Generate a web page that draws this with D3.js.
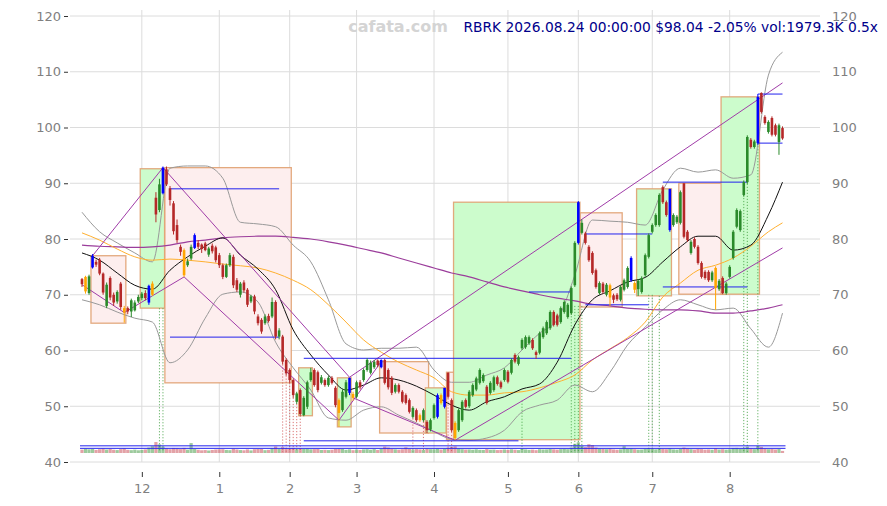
<!DOCTYPE html>
<html><head><meta charset="utf-8">
<script src="https://cdn.jsdelivr.net/npm/d3@7"></script>
<style>
html,body{margin:0;padding:0;background:#fff;}
svg{display:block;font-family:"DejaVu Sans",sans-serif;}
</style></head><body>
<svg id="c" width="887" height="506"></svg>
<script>
// ---------- DATA ----------
const startDate = "2025-11-05";
const holidays = ["2025-11-27","2025-12-25","2026-01-01","2026-01-19","2026-02-16","2026-04-03","2026-05-25","2026-06-19","2026-07-03"];
const opens = [72.8,70.6,70.3,74.9,75.9,76.3,73.8,68.0,73.0,70.0, 68.8,72.0,67.6,67.6,67.0,67.2,68.8,69.4,70.3,68.6,
70.0,87.4,85.2,88.2,92.5,89.1,86.4,82.5,78.6,78.0, 75.3,76.5,78.4,79.3,79.0,79.2,77.2,78.8,78.5,77.1,
75.3,73.2,75.3,76.8,72.6,70.0,72.2,70.9,68.8,69.7, 66.1,65.5,64.9,66.2,66.1,68.7,62.5,62.5,58.3,56.5,
54.7,50.8,52.9,48.4,49.9,54.7,56.5,56.1,54.2,54.7, 53.8,55.1,53.3,51.1,49.3,51.7,52.4,52.2,51.7,54.3,
54.7,56.5,56.0,57.0,58.2,57.0,58.3,56.5,55.1,52.6, 53.8,52.6,52.0,51.1,48.1,49.3,48.4,47.5,47.2,45.8,
47.9,48.1,52.0,49.9,56.0,51.1,47.0,45.7,47.5,51.1, 50.0,52.0,53.0,54.2,54.5,53.5,52.4,52.9,55.2,54.3,
54.7,56.2,56.0,59.2,57.6,60.4,60.6,61.3,61.9,59.7, 59.6,62.4,63.1,64.0,66.9,66.3,65.1,66.9,66.0,66.7,
71.7,79.3,81.1,81.0,78.6,77.5,74.4,70.3,72.0,70.0, 71.7,69.9,70.0,69.1,70.9,71.4,72.6,72.1,71.0,70.5,
73.5,76.8,81.3,82.5,82.5,89.3,86.6,81.6,82.5,83.0, 82.9,90.0,81.3,77.5,80.0,78.6,75.7,74.1,74.1,72.6,
74.8,71.0,73.0,70.3,73.2,76.6,82.2,81.6,87.9,90.2, 97.8,96.5,97.2,106.2,101.9,99.2,101.7,100.4,97.4,99.9];
const highs = [73.0,73.4,73.6,77.3,76.3,76.6,74.0,72.2,73.3,70.4, 70.8,72.3,68.0,67.9,69.3,69.0,70.0,70.5,70.8,71.8,
72.4,88.4,90.8,93.0,93.0,89.5,86.8,83.5,79.0,78.3, 76.5,79.0,81.0,79.8,79.2,79.5,78.6,79.2,78.8,77.5,
75.6,75.6,77.5,77.2,73.0,72.3,72.6,71.2,70.0,70.0, 66.5,65.8,66.5,66.6,69.5,69.0,64.0,62.8,58.6,56.8,
55.0,52.6,53.2,51.8,54.6,56.9,56.8,56.4,55.6,55.0, 55.4,55.4,53.6,51.4,53.0,54.7,55.1,52.6,54.6,54.7,
56.8,58.6,58.2,58.3,58.4,58.4,58.5,56.8,55.4,54.1, 54.1,52.9,52.3,51.4,50.0,49.6,48.7,49.6,47.5,47.8,
50.5,52.3,52.3,53.3,56.1,51.4,47.3,49.6,51.1,51.4, 52.9,54.1,55.3,56.8,55.9,53.8,54.5,55.5,55.5,54.6,
56.8,56.5,58.6,59.5,59.1,62.2,62.7,62.7,62.2,60.0, 63.4,64.3,65.4,67.2,67.2,66.6,67.9,69.0,68.5,71.5,
79.6,86.8,83.5,81.3,78.9,77.8,74.7,72.4,72.3,72.1, 72.0,70.2,70.3,71.7,72.9,75.1,76.9,72.4,72.8,73.3,
77.4,81.0,82.8,84.6,88.2,89.6,86.9,89.0,84.6,84.3, 88.7,90.0,81.6,79.8,80.3,78.9,76.0,74.4,74.4,74.3,
75.1,72.8,73.3,72.3,75.3,81.6,85.5,85.3,90.5,98.6, 98.1,97.8,106.0,106.3,102.2,101.3,102.0,100.7,100.7,100.2];
const lows = [71.4,70.2,70.0,74.7,75.0,73.5,70.0,67.6,69.0,68.0, 68.4,67.3,65.0,66.5,66.0,67.0,68.5,69.0,69.0,68.2,
69.8,83.0,84.8,88.0,89.5,86.0,80.8,79.3,77.0,73.2, 75.0,76.2,78.2,78.2,77.5,77.8,76.8,77.4,75.8,74.8,
72.8,73.0,75.0,71.2,70.5,69.5,70.4,67.8,68.5,66.5, 64.5,63.0,64.6,65.0,65.8,62.0,62.0,57.5,55.5,54.2,
51.5,50.4,48.3,48.2,49.5,54.4,53.5,52.5,53.9,53.5, 53.5,53.9,49.8,46.3,49.0,51.4,52.0,51.0,51.4,53.0,
54.4,56.2,55.7,56.7,57.0,56.8,53.9,53.0,52.0,52.3, 52.3,50.5,50.3,48.7,47.8,47.2,47.2,47.2,45.2,45.5,
47.6,47.8,50.3,49.6,51.4,45.4,43.9,45.4,47.2,49.6, 49.7,51.7,52.7,53.9,54.2,50.3,52.1,52.6,53.7,53.1,
54.4,54.1,55.7,57.7,57.3,60.1,60.3,61.0,60.1,58.5, 59.3,62.1,62.8,63.7,64.3,64.3,64.8,66.6,65.7,66.4,
71.4,79.0,80.8,79.0,75.9,73.6,71.1,70.0,70.2,69.7, 68.0,68.5,68.9,68.8,70.6,71.1,72.3,70.3,69.8,70.2,
73.2,76.5,81.0,82.2,82.2,86.3,84.0,81.3,82.2,82.7, 82.6,80.1,79.5,77.2,78.3,75.4,72.9,72.7,72.3,72.3,
67.3,70.7,70.1,70.0,72.9,76.3,81.9,81.3,87.6,89.9, 96.2,96.2,96.9,102.5,100.5,98.9,98.4,98.4,95.1,97.8];
const closes = [71.9,73.2,73.3,77.0,75.4,73.8,70.4,71.8,69.5,68.6, 70.5,67.8,66.8,67.0,69.0,68.6,69.6,70.2,69.4,71.6,
72.0,84.4,89.8,92.8,89.8,87.0,81.4,79.8,77.7,73.5, 76.0,78.6,80.7,78.6,78.2,78.0,78.3,77.8,76.2,75.3,
73.2,75.3,77.1,71.7,70.9,72.0,70.8,68.2,69.7,67.0, 64.9,63.4,66.1,65.3,68.7,62.5,63.6,58.0,55.9,54.7,
52.0,52.3,48.6,51.5,54.3,56.1,53.8,52.9,55.2,53.8, 55.1,54.2,50.2,48.8,52.6,54.3,55.1,51.5,54.3,53.4,
56.5,58.3,57.8,58.0,57.4,58.3,54.2,53.4,52.4,53.8, 52.6,50.8,50.6,49.0,49.7,47.5,47.5,49.3,45.7,47.5,
50.2,52.0,50.6,53.3,51.7,45.7,44.3,49.3,50.8,49.9, 52.6,53.8,55.0,56.5,55.6,50.6,54.2,55.2,54.0,53.4,
56.5,54.4,58.3,58.0,58.8,61.9,62.4,62.4,60.4,59.2, 63.1,64.0,65.1,66.9,64.6,64.6,67.6,68.7,68.2,71.2,
79.3,86.6,82.9,79.3,76.2,73.9,71.4,72.1,70.5,71.8, 69.5,69.1,69.2,71.4,72.6,74.8,76.6,70.9,72.5,73.0,
77.1,80.7,82.5,84.3,87.9,86.6,84.3,89.0,84.3,84.0, 88.4,80.4,79.8,79.5,78.6,75.7,73.2,73.0,72.6,74.0,
71.2,72.5,70.3,72.0,75.0,81.3,85.2,85.0,90.2,98.3, 96.5,97.5,105.5,102.8,100.8,101.0,98.7,98.7,100.4,98.04];
const volumes = [3200,4100,3500,3800,2900,3600,4200,3300,3900,3100, 2800,3700,4400,3000,2700,3200,2600,2900,3400,5200,
6500,10500,8200,6100,4300,3600,4800,4500,3700,4900, 3200,9500,3800,3100,2600,2800,2400,2900,3300,3500,
3600,2900,2700,4100,3300,2800,2600,3400,2500,3600, 3800,3900,2700,3000,4600,6200,3800,5600,4700,4400,
4900,3600,4300,3900,4100,3500,3700,3800,2900,3000, 2800,3100,3900,4200,3800,3000,3500,2700,3300,2900,
3400,3600,3100,3700,2900,4000,6100,5200,3900,3500, 3200,3600,5400,3900,3300,3700,3400,3100,4200,3600,
3500,4100,3300,4000,5000,5800,6300,4200,3600,3300, 3400,3100,3500,3000,2900,3700,3100,3200,2800,3000,
3300,2900,3500,3100,2800,3900,3400,3000,3200,2700, 3600,3300,3400,3800,3500,3200,3700,3900,3600,5200,
8800,10200,6800,5600,8400,7600,5200,4100,3800,3600, 4200,3400,3100,3500,6500,3900,4300,3600,3200,3300,
4100,4600,4000,3500,4400,3800,3600,4300,3400,3200, 3900,5200,4100,3600,3300,3900,3700,3200,3400,3100,
4500,3300,3600,3200,3500,4800,4900,4200,4400,6100, 4300,3700,6800,5900,4100,3600,3800,3400,3900,1979];
const pivotHighIdx = [3,19,23,32,76,85,101,103,141,156,167,192];
const pivotLowIdx  = [1,12,20,29,73,77,96,102,106,150,157,180];

// indicator samples (candle index -> value)
const indIdx = [0,5,10,15,20,25,30,35,40,45,50,55,60,65,70,75,80,85,90,95,100,105,110,115,120,125,130,135,140,145,150,155,160,165,170,175,180,185,190,195,199];
const ma20  = [77.5,76.2,73.9,71.7,71.0,74.4,76.8,78.7,80.2,77.1,74.6,70.9,63.7,59.2,55.6,52.9,53.8,55.1,54.7,53.6,52.0,50.2,49.3,50.8,51.7,53.1,54.0,57.9,64.6,69.1,70.7,72.3,73.1,75.9,78.6,80.5,80.5,78.0,78.9,84.3,90.2];
const ma50  = [81.1,79.8,78.2,76.8,76.2,76.4,76.2,75.9,75.5,75.2,74.8,73.9,72.6,70.9,68.2,65.1,61.9,59.7,57.9,56.5,55.1,52.6,52.0,52.0,52.4,52.6,53.3,54.3,55.6,58.3,60.3,62.3,65.1,69.6,72.1,74.4,75.3,76.6,78.7,81.3,82.9];
const ma200 = [78.9,78.7,78.6,78.5,78.6,78.9,79.5,79.8,80.2,80.4,80.5,80.5,80.3,80.0,79.5,78.9,78.2,77.5,76.6,75.7,74.8,73.9,73.2,72.3,71.4,70.7,70.0,69.4,68.9,68.3,68.0,67.6,67.4,67.3,67.3,67.1,66.7,66.7,67.1,67.6,68.2];
const bbUp  = [84.8,81.3,79.3,77.5,75.9,92.7,93.1,93.1,90.9,83.0,82.7,82.2,78.9,75.9,69.1,61.2,60.1,60.4,60.4,60.6,56.5,54.3,54.3,55.6,56.9,60.1,63.1,65.5,73.5,83.4,83.2,83.0,82.5,88.8,92.7,92.0,92.4,90.9,91.5,109.4,113.5];
const bbLo  = [69.1,68.2,66.9,65.8,65.1,57.8,60.1,65.8,70.1,70.5,68.7,61.5,56.9,52.9,47.9,47.5,49.3,49.9,48.4,47.0,45.4,44.1,43.9,44.3,45.7,49.0,50.2,51.1,53.8,52.6,56.1,61.0,64.2,67.3,69.1,68.2,67.3,67.6,63.9,60.6,66.7];

// zones: [startIdx, endIdx, top, bottom, kind]
const zones = [[3,12,77.0,64.9,"down"],[17,23,92.6,67.6,"up"],[24,59,92.8,54.2,"down"],[62,65,56.9,48.3,"up"],
[73,76,55.1,46.3,"up"],[85,98,58.0,45.2,"down"],[98,103,53.3,45.2,"up"],[104,106,56.1,44.0,"down"],
[106,141,86.6,44.0,"up"],[142,153,84.7,67.8,"down"],[158,167,89.0,69.8,"up"],[170,182,90.0,70.1,"down"],[182,192,105.5,70.1,"up"]];
// trend lines: [i1, p1, i2, p2]
const trendLines = [[3,77.0,23,92.8],[0,71.8,12,66.8],[12,66.8,29,73.2],[23,92.8,76,55.2],[29,73.2,73,47.5],
[73,47.5,85,58.0],[76,55.2,199,108.0],[77,51.5,106,43.9],[106,43.9,199,78.4]];
// horizontal levels: [i1, i2, price]
const levels = [[25,56,89.0],[25,56,62.4],[63,139,58.6],[63,124,43.8],[127,139,70.5],[143,162,80.9],[143,161,68.2],
[165,189,90.2],[165,189,71.4],[192,199,106.0],[192,199,97.2]];
const baseLevels = [42.9,42.45];
// signals: [index, topPrice]
const buySignals = [[22,67.6],[23,67.6],[125,51.0],[139,66.7],[140,68.0],[141,68.0],[142,68.0],[161,70.0],[162,70.0],[164,69.8],[188,87.9],[189,89.9],[192,97.2]];
const sellSignals = [[57,57.5],[58,55.5],[59,54.2],[60,51.5],[61,50.4],[62,48.3],[94,47.8],[97,47.2],[104,51.4],[105,45.4]];
const yTicks = [40,50,60,70,80,90,100,110,120];
const titleText = "RBRK 2026.08.24 00:00:00 $98.04 -2.05% vol:1979.3K 0.5x";
const watermark = "cafata.com";

// ---------- CALENDAR ----------
function tradingDays(start, count, hol) {
  const d = new Date(start + "T00:00:00Z"); const out = [];
  while (out.length < count) {
    const w = d.getUTCDay(), s = d.toISOString().slice(0,10);
    if (w !== 0 && w !== 6 && !hol.includes(s)) out.push(new Date(d));
    d.setUTCDate(d.getUTCDate() + 1);
  }
  return out;
}
const n = closes.length;
const dates = tradingDays(startDate, n, holidays);
const monthTicks = [];
for (let i = 1; i < n; i++) if (dates[i].getUTCMonth() !== dates[i-1].getUTCMonth()) monthTicks.push(i);

// ---------- SCALES ----------
const svg = d3.select("#c");
const x = d3.scaleLinear().domain([0, n - 1]).range([82, 782.5]);
const y = d3.scaleLinear().domain([40, 120]).range([462, 16]);
const vy = d3.scaleLinear().domain([0, 11000]).range([453, 441.5]);
const X0 = 70, X1 = 820;

// grid
const g = svg.append("g");
g.selectAll("line.h").data(yTicks).join("line")
  .attr("x1", X0).attr("x2", X1).attr("y1", d => y(d)).attr("y2", d => y(d))
  .attr("stroke", "#dcdcdc").attr("stroke-width", 1);
g.selectAll("line.v").data(monthTicks).join("line")
  .attr("x1", d => x(d)).attr("x2", d => x(d)).attr("y1", 10).attr("y2", y(40))
  .attr("stroke", "#dcdcdc").attr("stroke-width", 1);

// zones
const bw = 1.6;
svg.append("g").selectAll("rect").data(zones).join("rect")
  .attr("x", d => x(d[0]) - bw).attr("width", d => x(d[1]) - x(d[0]) + 2*bw)
  .attr("y", d => y(d[2])).attr("height", d => y(d[3]) - y(d[2]))
  .attr("fill", d => d[4] === "up" ? "#ccfccc" : "#fdeeee")
  .attr("stroke", "#e0a070").attr("stroke-width", 1.3).attr("stroke-opacity", 0.9);

// signals
svg.append("g").selectAll("line").data(buySignals).join("line")
  .attr("x1", d => x(d[0])).attr("x2", d => x(d[0])).attr("y1", d => y(d[1])).attr("y2", 452)
  .attr("stroke", "#40a040").attr("stroke-width", 0.8).attr("stroke-dasharray", "1.2,1.8");
svg.append("g").selectAll("line").data(sellSignals).join("line")
  .attr("x1", d => x(d[0])).attr("x2", d => x(d[0])).attr("y1", d => y(d[1])).attr("y2", 452)
  .attr("stroke", "#d05050").attr("stroke-width", 0.8).attr("stroke-dasharray", "1.2,1.8");

// indicator lines
function ind(vals, color, w) {
  const line = d3.line().x((d, k) => x(indIdx[k])).y(d => y(d)).curve(d3.curveMonotoneX);
  svg.append("path").attr("d", line(vals)).attr("fill", "none").attr("stroke", color).attr("stroke-width", w);
}
ind(bbUp, "#999999", 1);
ind(bbLo, "#999999", 1);
ind(ma200, "#9b3d9b", 1.2);
ind(ma50, "#ffb030", 1);
ind(ma20, "#111111", 1);

// trend lines
svg.append("g").selectAll("line").data(trendLines).join("line")
  .attr("x1", d => x(d[0])).attr("y1", d => y(d[1])).attr("x2", d => x(d[2])).attr("y2", d => y(d[3]))
  .attr("stroke", "#a03ca8").attr("stroke-width", 1);

// levels
svg.append("g").selectAll("line").data(levels).join("line")
  .attr("x1", d => x(d[0])).attr("x2", d => x(d[1])).attr("y1", d => y(d[2])).attr("y2", d => y(d[2]))
  .attr("stroke", "#2222ee").attr("stroke-width", 1);

// volume
const idx = d3.range(n);
svg.append("g").selectAll("rect").data(idx).join("rect")
  .attr("x", i => x(i) - 1.6).attr("width", 3.2)
  .attr("y", i => vy(volumes[i])).attr("height", i => 453 - vy(volumes[i]))
  .attr("fill", i => closes[i] >= opens[i] ? "rgba(60,150,60,0.5)" : "rgba(200,70,80,0.5)");
svg.append("g").selectAll("line").data(baseLevels).join("line")
  .attr("x1", x(0) - 2).attr("x2", x(n - 1) + 3).attr("y1", d => y(d)).attr("y2", d => y(d))
  .attr("stroke", "#2222ee").attr("stroke-width", 1);

// candles
function cColor(i) {
  if (pivotHighIdx.includes(i)) return "#0000ff";
  if (pivotLowIdx.includes(i)) return "#ffa500";
  return closes[i] >= opens[i] ? "#2a8a2a" : "#b52828";
}
const cg = svg.append("g");
cg.selectAll("line").data(idx).join("line")
  .attr("x1", i => x(i)).attr("x2", i => x(i)).attr("y1", i => y(highs[i])).attr("y2", i => y(lows[i]))
  .attr("stroke", cColor).attr("stroke-width", 1);
cg.selectAll("rect").data(idx).join("rect")
  .attr("x", i => x(i) - 1.3).attr("width", 2.6)
  .attr("y", i => y(Math.max(opens[i], closes[i])))
  .attr("height", i => Math.max(1, Math.abs(y(opens[i]) - y(closes[i]))))
  .attr("fill", cColor);

// axes
const fontCol = "#808080";
const la = svg.append("g").attr("transform", `translate(${X0 - 2},0)`)
  .call(d3.axisLeft(y).tickValues(yTicks).tickSize(4).tickPadding(3));
const ra = svg.append("g").attr("transform", `translate(${X1},0)`)
  .call(d3.axisRight(y).tickValues(yTicks).tickSize(0).tickPadding(12));
const ba = svg.append("g").attr("transform", `translate(0,472)`)
  .call(d3.axisBottom(x).tickValues(monthTicks).tickSize(5).tickPadding(7)
    .tickFormat(i => String(dates[i].getUTCMonth() + 1)));
[la, ra, ba].forEach(a => {
  a.select(".domain").remove();
  a.selectAll("text").attr("fill", fontCol).style("font-size", "13px").style("font-family", "DejaVu Sans");
  a.selectAll(".tick line").attr("stroke", "#333");
});

// texts
svg.append("text").attr("x", 398).attr("y", 32).attr("text-anchor", "middle")
  .attr("fill", "#d4d4d4").style("font-size", "16px").style("font-weight", "bold").text(watermark);
svg.append("text").attr("x", 878).attr("y", 32).attr("text-anchor", "end")
  .attr("fill", "#00008b").style("font-size", "13.8px").text(titleText);
</script>
</body></html>
